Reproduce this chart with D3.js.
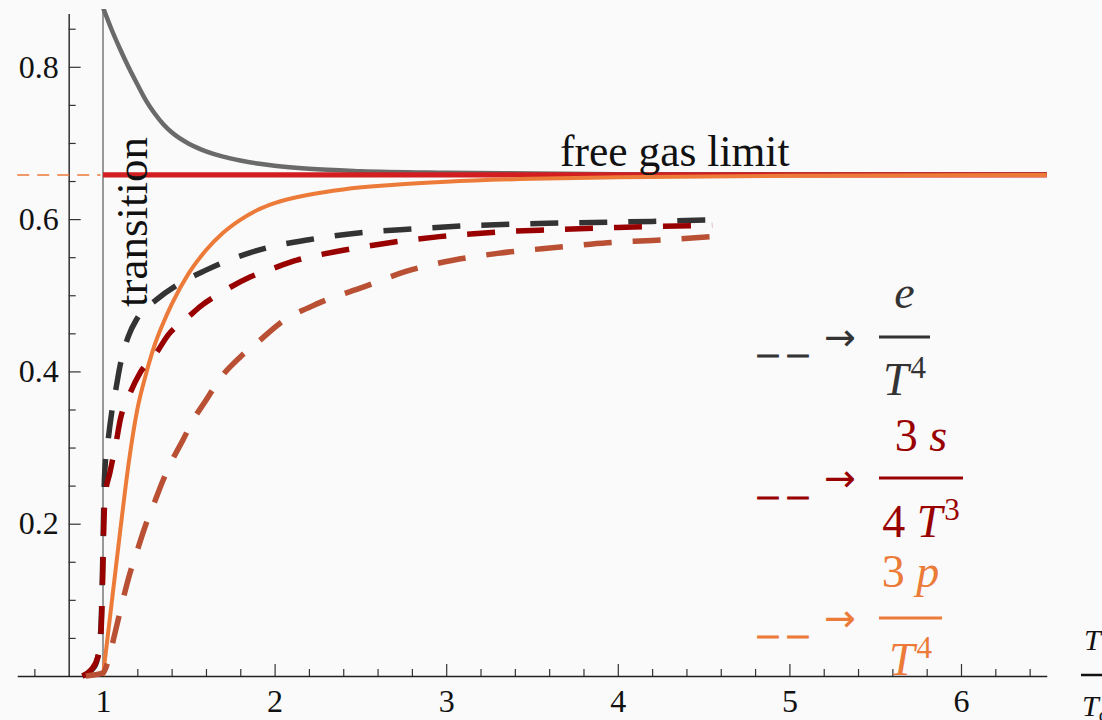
<!DOCTYPE html>
<html>
<head>
<meta charset="utf-8">
<script src="https://cdn.jsdelivr.net/npm/d3@7"></script>
<style>
  body { margin: 0; background: #fafafa; }
  svg { display: block; background: #fafafa; }
  text { font-family: "Liberation Serif", "Times New Roman", serif; }
  text.arrow { font-family: "DejaVu Sans", sans-serif; }
</style>
</head>
<body>
<svg id="chart" width="1102" height="720"></svg>
<script>
// ---- data -------------------------------------------------------------
const xTickValues = [1, 2, 3, 4, 5, 6];
const yTickValues = [0.2, 0.4, 0.6, 0.8];
const freeGasLimit = 0.658;
const transitionT = 1;

// solid model curves: [T/Tc, value]
const energySolid = [[1.0,0.878],[1.05,0.849],[1.1,0.823],[1.15,0.799],[1.2,0.777],[1.25,0.756],
  [1.3,0.739],[1.35,0.725],[1.4,0.714],[1.5,0.699],[1.6,0.689],[1.7,0.682],[1.8,0.677],[1.9,0.673],
  [2.0,0.670],[2.2,0.666],[2.5,0.663],[3.0,0.661],[3.5,0.660],[4.0,0.659],[5.0,0.659],[6.5,0.659]];
const pressureSolid = [[1.0,0.0],[1.05,0.095],[1.1,0.19],[1.15,0.28],[1.2,0.35],[1.25,0.396],
  [1.3,0.434],[1.35,0.463],[1.4,0.488],[1.5,0.529],[1.6,0.559],[1.7,0.582],[1.8,0.599],[1.9,0.612],
  [2.0,0.621],[2.2,0.632],[2.4,0.639],[2.7,0.645],[3.0,0.649],[3.5,0.653],[4.0,0.655],[5.0,0.657],[6.5,0.658]];

// dashed curves: [T/Tc, value]
const energyDashed = [[0.88,0.0],[0.95,0.012],[0.98,0.04],[0.992,0.09],[1.0,0.17],[1.005,0.23],
  [1.01,0.267],[1.03,0.31],[1.05,0.345],[1.076,0.378],[1.1,0.408],[1.146,0.445],[1.2,0.47],
  [1.31,0.494],[1.45,0.516],[1.6,0.533],[1.7,0.543],[1.95,0.562],[2.2,0.573],[2.5,0.582],
  [2.8,0.587],[3.1,0.591],[3.7,0.595],[4.2,0.597],[4.55,0.599]];
const entropyDashed = [[0.88,0.0],[0.93,0.008],[0.97,0.025],[0.99,0.065],[0.995,0.1],[1.0,0.15],
  [1.005,0.2],[1.012,0.235],[1.04,0.267],[1.076,0.306],[1.1,0.336],[1.157,0.371],[1.216,0.398],
  [1.31,0.424],[1.38,0.448],[1.49,0.47],[1.577,0.487],[1.7,0.505],[1.857,0.524],[2.0,0.536],
  [2.13,0.546],[2.4,0.559],[2.67,0.569],[2.96,0.577],[3.3,0.583],[3.6,0.586],[4.0,0.589],[4.55,0.592]];
const pressureDashed = [[0.9,0.0],[1.0,0.004],[1.03,0.02],[1.06,0.047],[1.1,0.085],[1.157,0.135],
  [1.2,0.165],[1.245,0.196],[1.3,0.228],[1.35,0.257],[1.4,0.282],[1.466,0.31],[1.525,0.336],
  [1.6,0.362],[1.68,0.39],[1.8,0.419],[1.9,0.438],[2.03,0.463],[2.26,0.49],[2.52,0.511],
  [2.79,0.533],[3.04,0.546],[3.3,0.555],[3.65,0.563],[3.94,0.569],[4.2,0.572],[4.55,0.577]];

// drawn in this order: energy first, entropy over it, pressure last
const dashedSeries = [
  { data: energyDashed,   color: "#333333" },
  { data: entropyDashed,  color: "#990000" },
  { data: pressureDashed, color: "#b94f33" }
];

const legendColors = ["#333333", "#990000", "#ec7a38"];

// ---- scales -----------------------------------------------------------
const svg = d3.select("#chart");
const x = d3.scaleLinear().domain([0.5, 6.5]).range([17.2, 1046.8]);
const y = d3.scaleLinear().domain([0, 0.87]).range([676, 13.5]);
const line = d3.line().x(d => x(d[0])).y(d => y(d[1])).curve(d3.curveMonotoneX);

svg.append("defs").append("clipPath").attr("id", "plotClip")
  .append("rect").attr("x", 0).attr("y", 9).attr("width", 1102).attr("height", 680);

// ---- axes -------------------------------------------------------------
const xMinor = d3.range(0.6, 6.45, 0.2).map(v => +v.toFixed(1)).filter(v => !xTickValues.includes(v) && v !== 0.8);
const yMinor = d3.range(0.05, 0.87, 0.05).map(v => +v.toFixed(2)).filter(v => !yTickValues.map(t => +t.toFixed(2)).includes(v));

const serif = '"Liberation Serif", "Times New Roman", serif';

const xAxisG = svg.append("g").attr("transform", `translate(0,${y(0)})`);
xAxisG.call(d3.axisBottom(x).tickValues(xTickValues).tickFormat(d3.format("d"))
  .tickSizeInner(-12).tickSizeOuter(0).tickPadding(13));
xAxisG.append("g").call(d3.axisBottom(x).tickValues(xMinor).tickFormat("")
  .tickSizeInner(-7).tickSizeOuter(0)).select(".domain").remove();

const yAxisG = svg.append("g").attr("transform", `translate(${x(0.8)},0)`);
yAxisG.call(d3.axisLeft(y).tickValues(yTickValues).tickFormat(d3.format(".1f"))
  .tickSizeInner(-12).tickSizeOuter(0).tickPadding(10));
yAxisG.append("g").call(d3.axisLeft(y).tickValues(yMinor).tickFormat("")
  .tickSizeInner(-7).tickSizeOuter(0)).select(".domain").remove();

svg.selectAll(".tick text").attr("font-size", 32).attr("fill", "#111")
  .style("font-family", serif);
svg.selectAll(".tick line").attr("stroke", "#333").attr("stroke-width", 1.2);
svg.selectAll(".domain").attr("stroke", "#222").attr("stroke-width", 1.4);

// ---- reference lines --------------------------------------------------
const plot = svg.append("g").attr("clip-path", "url(#plotClip)");

plot.append("line")
  .attr("x1", x(transitionT)).attr("x2", x(transitionT))
  .attr("y1", y(0)).attr("y2", 9)
  .attr("stroke", "#777").attr("stroke-width", 1.5);

plot.append("line")
  .attr("x1", x(0.5)).attr("x2", x(0.985))
  .attr("y1", y(freeGasLimit)).attr("y2", y(freeGasLimit))
  .attr("stroke", "#ec7a38").attr("stroke-width", 1.4).attr("stroke-dasharray", "12,8");

// ---- solid curves -----------------------------------------------------
plot.append("path").datum(energySolid).attr("d", line)
  .attr("fill", "none").attr("stroke", "#6a6a6a").attr("stroke-width", 4.5);

plot.append("line")
  .attr("x1", x(transitionT)).attr("x2", x(6.5))
  .attr("y1", y(freeGasLimit)).attr("y2", y(freeGasLimit))
  .attr("stroke", "#d11f21").attr("stroke-width", 5.2);

plot.append("path").datum(pressureSolid).attr("d", line)
  .attr("fill", "none").attr("stroke", "#ec7a38").attr("stroke-width", 4);

// ---- dashed curves ----------------------------------------------------
plot.selectAll("path.dashed").data(dashedSeries).join("path")
  .attr("class", "dashed")
  .attr("d", d => line(d.data))
  .attr("fill", "none")
  .attr("stroke", d => d.color)
  .attr("stroke-width", 5.5)
  .attr("stroke-dasharray", "28,21");

// ---- annotations ------------------------------------------------------
svg.append("text")
  .attr("transform", `translate(147,307) rotate(-90)`)
  .attr("font-size", 45).attr("fill", "#111")
  .text("transition");

svg.append("text")
  .attr("x", 560).attr("y", 166)
  .attr("font-size", 43.5).attr("fill", "#111")
  .text("free gas limit");

// ---- legend -----------------------------------------------------------
const legend = [
  { dashY: 365, arrowY: 350, barY: 337, barX1: 879, barX2: 930, numY: 308, denY: 395,
    num: [{ t: "e", i: true }], den: [{ t: "T", i: true }, { t: "4", sup: true }] },
  { dashY: 507, arrowY: 491, barY: 478, barX1: 879, barX2: 963, numY: 451, denY: 537,
    num: [{ t: "3 " }, { t: "s", i: true }], den: [{ t: "4 " }, { t: "T", i: true }, { t: "3", sup: true }] },
  { dashY: 646, arrowY: 631, barY: 618, barX1: 879, barX2: 942, numY: 587, denY: 675,
    num: [{ t: "3 " }, { t: "p", i: true }], den: [{ t: "T", i: true }, { t: "4", sup: true }] }
];

legend.forEach((g, k) => {
  const c = legendColors[k];
  const grp = svg.append("g").attr("fill", c);
  grp.append("text").attr("x", 758).attr("y", g.dashY).attr("font-size", 40)
    .attr("stroke", c).attr("stroke-width", 1.1).text("– –");
  grp.append("text").attr("class", "arrow").attr("x", 824).attr("y", g.arrowY)
    .attr("font-size", 38).text("→");
  grp.append("line").attr("x1", g.barX1).attr("x2", g.barX2).attr("y1", g.barY).attr("y2", g.barY)
    .attr("stroke", c).attr("stroke-width", 3);
  const cx = (g.barX1 + g.barX2) / 2;
  [[g.num, g.numY], [g.den, g.denY]].forEach(([parts, by]) => {
    const t = grp.append("text").attr("x", cx).attr("y", by).attr("font-size", 46)
      .attr("text-anchor", "middle");
    parts.forEach(p => {
      const s = t.append("tspan").text(p.t);
      if (p.i) s.attr("font-style", "italic");
      if (p.sup) s.attr("font-size", 31).attr("dy", -17).attr("dx", 2);
    });
  });
});

// axis title T / Tc
const title = svg.append("g").attr("fill", "#111");
title.append("text").attr("x", 1084).attr("y", 650).attr("font-size", 30)
  .attr("font-style", "italic").text("T");
title.append("line").attr("x1", 1081).attr("x2", 1120).attr("y1", 675).attr("y2", 675)
  .attr("stroke", "#111").attr("stroke-width", 2.5);
const tc = title.append("text").attr("x", 1082).attr("y", 716).attr("font-size", 30);
tc.append("tspan").attr("font-style", "italic").text("T");
tc.append("tspan").attr("font-size", 20).attr("dy", 6).text("c");
</script>
</body>
</html>
